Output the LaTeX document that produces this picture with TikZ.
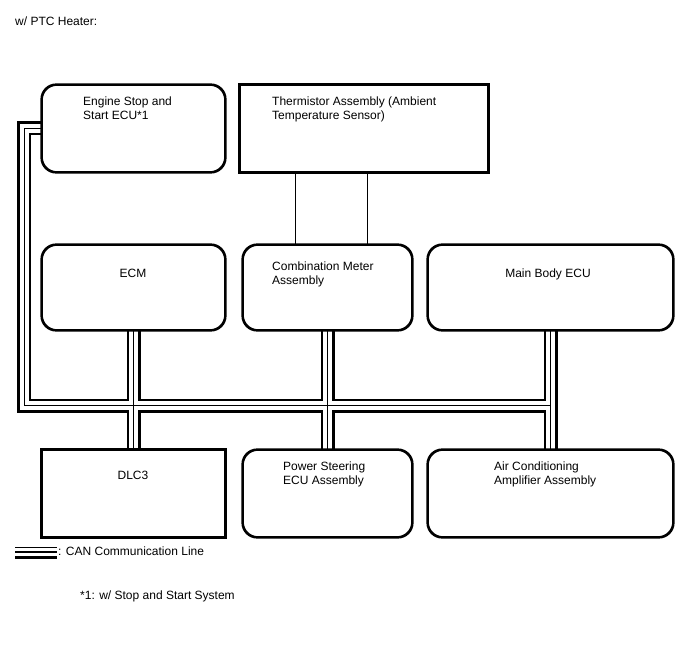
\documentclass[tikz,border=0pt]{standalone}
\usepackage{fontspec}
\setmainfont{Liberation Sans}
\begin{document}
\begin{tikzpicture}[x=1pt,y=-1pt,
  box/.style={draw,line width=1.6pt,rounded corners=15pt,inner sep=0pt},
  sbox/.style={draw,line width=1.6pt,inner sep=0pt},
  txt/.style={font=\fontsize{12}{14}\selectfont,inner sep=0pt,align=left,anchor=base west},
  ctxt/.style={font=\fontsize{12}{14}\selectfont,inner sep=0pt,anchor=base},
  busout/.style={line width=14pt,black},
  busin/.style={line width=9pt,white},
  busmid/.style={line width=1pt,black}]
\useasboundingbox (0,0) rectangle (688,658);
\node[box,minimum width=183pt,minimum height=87pt] (ess) at (133.5,128.5) {};
\node[sbox,minimum width=248pt,minimum height=87pt] (therm) at (364,128.5) {};
\node[box,minimum width=183pt,minimum height=85pt] (ecm) at (133.5,287.5) {};
\node[box,minimum width=169pt,minimum height=85pt] (cmb) at (327.5,287.5) {};
\node[box,minimum width=245pt,minimum height=85pt] (mbe) at (550.5,287.5) {};
\node[sbox,minimum width=183pt,minimum height=87pt] (dlc) at (133.5,493.5) {};
\node[box,minimum width=169pt,minimum height=87pt] (pse) at (327.5,493.5) {};
\node[box,minimum width=245pt,minimum height=87pt] (aca) at (550.5,493.5) {};
% CAN bus
\coordinate (cl) at (24,128.5);
\coordinate (cb) at (24,405.5);
\foreach \s in {busout,busin,busmid}{
  \draw[\s,line join=miter] (ess.west) -- (cl) -- (cb) -- (cb -| mbe.south);
  \draw[\s] (ecm.south) -- (dlc.north);
  \draw[\s] (cmb.south) -- (pse.north);
  \draw[\s] (mbe.south) -- (aca.north);
}
% redraw boxes on top
\foreach \n in {ess,ecm,cmb,mbe,pse,aca}{
  \draw[line width=1.6pt,rounded corners=15pt] (\n.south west) rectangle (\n.north east);
}
\foreach \n in {therm,dlc}{
  \draw[line width=1.6pt] (\n.south west) rectangle (\n.north east);
}
% thermistor wires
\coordinate (t1) at (295,172);
\coordinate (t2) at (367,172);
\draw[line width=0.8pt] (t1) -- (t1 |- cmb.north);
\draw[line width=0.8pt] (t2) -- (t2 |- cmb.north);
% texts
\node[txt] (ttl) at (15,26) {w/ PTC Heater:};
\node[txt] (esst) at (83,120) {Engine Stop and\\Start ECU*1};
\node[txt] (thermt) at (272,120) {Thermistor Assembly (Ambient\\Temperature Sensor)};
\node[ctxt] (ecmt) at (133,277) {ECM};
\node[txt] (cmbt) at (272,284) {Combination Meter\\Assembly};
\node[ctxt] (mbet) at (548,277) {Main Body ECU};
\node[ctxt] (dlct) at (133,479) {DLC3};
\node[txt] (pset) at (283,484) {Power Steering\\ECU Assembly};
\node[txt] (acat) at (494,484) {Air Conditioning\\Amplifier Assembly};
% legend
\coordinate (l1) at (15,547.5);
\coordinate (l2) at (57,547.5);
\coordinate (l3) at (15,552);
\coordinate (l4) at (57,552);
\coordinate (l5) at (15,557.5);
\coordinate (l6) at (57,557.5);
\draw[line width=1.3pt] (l1) -- (l2);
\draw[line width=1.3pt] (l3) -- (l4);
\draw[line width=2.6pt] (l5) -- (l6);
\node[txt] (legt) at (58,555) {: CAN Communication Line};
\node[txt] (note) at (80,599) {*1: w/ Stop and Start System};
\end{tikzpicture}
\end{document}
